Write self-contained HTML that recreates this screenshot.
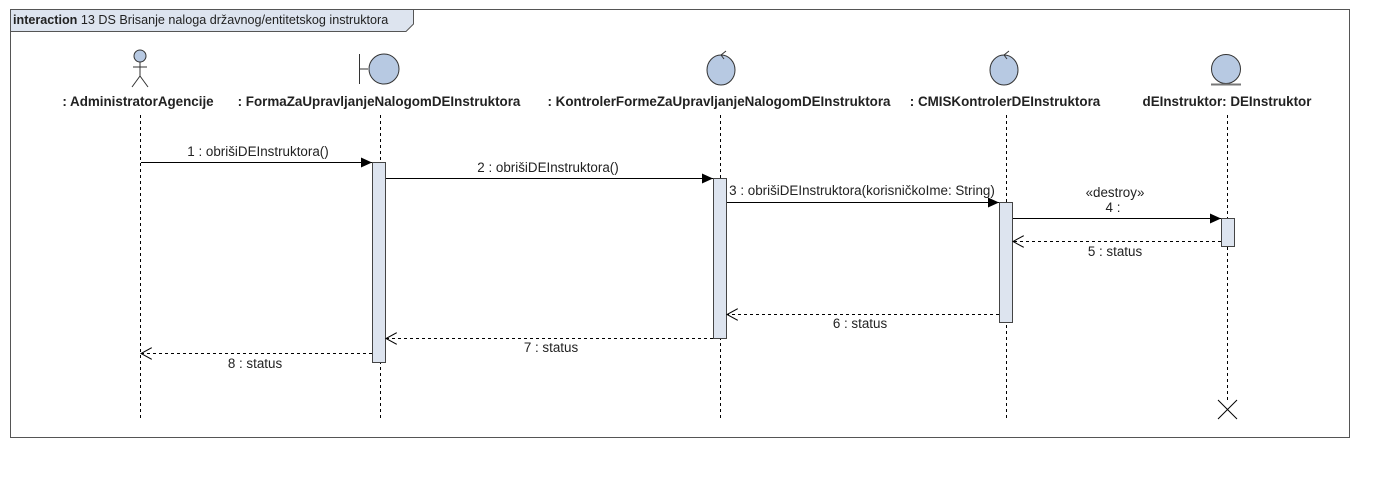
<!DOCTYPE html>
<html><head><meta charset="utf-8"><style>body{margin:0;background:#fff}svg{display:block}text{font-family:"Liberation Sans",sans-serif;font-size:13.4px;fill:#222}</style></head><body>
<svg width="1389" height="477" viewBox="0 0 1389 477">
<defs>
<marker id="f" markerWidth="12" markerHeight="10" refX="11" refY="5" orient="auto" markerUnits="userSpaceOnUse"><path d="M0,0L11,5L0,10z" fill="#000"/></marker>
<marker id="o" markerWidth="12" markerHeight="12" refX="11" refY="6" orient="auto" markerUnits="userSpaceOnUse"><path d="M0,0L11,6L0,12" fill="none" stroke="#000"/></marker>
</defs>
<rect x="10.5" y="9.5" width="1339" height="428" fill="#fff" stroke="#555"/>
<path d="M10.5,9.5H413.5V24L406,31.5H10.5z" fill="#dde4ef" stroke="#555"/>
<text x="13" y="24" style="font-size:12.6px"><tspan font-weight="bold">interaction</tspan> 13 DS Brisanje naloga državnog/entitetskog instruktora</text>
<g stroke="#000" stroke-dasharray="3,3" stroke-width="1">
<line x1="140.5" y1="115" x2="140.5" y2="418"/><line x1="380.5" y1="115" x2="380.5" y2="418"/><line x1="720.5" y1="115" x2="720.5" y2="418"/><line x1="1006.5" y1="115" x2="1006.5" y2="418"/><line x1="1227.5" y1="115" x2="1227.5" y2="400"/>
</g>
<g stroke="#333" fill="none"><circle cx="140" cy="56" r="6" fill="#b7c9e2"/><line x1="140" y1="62" x2="140" y2="76"/><line x1="133" y1="67" x2="147" y2="67"/><line x1="140" y1="76" x2="132" y2="87"/><line x1="140" y1="76" x2="148" y2="87"/></g>
<g stroke="#333"><line x1="359.5" y1="54" x2="359.5" y2="84"/><line x1="359" y1="69" x2="368" y2="69"/><circle cx="384" cy="69" r="15" fill="#b7c9e2"/></g>
<g stroke="#333" fill="#b7c9e2"><ellipse cx="721" cy="70" rx="14" ry="15"/><path d="M721,55l5,-4M721,55l3,4" fill="none"/><ellipse cx="1004" cy="70" rx="14" ry="15"/><path d="M1004,55l5,-4M1004,55l3,4" fill="none"/></g>
<g stroke="#333"><circle cx="1226" cy="69" r="14.5" fill="#b7c9e2"/><line x1="1211" y1="84.5" x2="1241" y2="84.5" stroke="#777" stroke-width="2"/></g>
<g text-anchor="middle">
<text x="138" y="106" font-weight="bold">: AdministratorAgencije</text>
<text x="379" y="106" font-weight="bold">: FormaZaUpravljanjeNalogomDEInstruktora</text>
<text x="719" y="106" font-weight="bold">: KontrolerFormeZaUpravljanjeNalogomDEInstruktora</text>
<text x="1005" y="106" font-weight="bold">: CMISKontrolerDEInstruktora</text>
<text x="1227" y="106" font-weight="bold">dEInstruktor: DEInstruktor</text>
</g>
<g fill="#dde4ef" stroke="#444">
<rect x="372.5" y="162.5" width="13" height="200"/><rect x="713.5" y="178.5" width="13" height="160"/><rect x="999.5" y="202.5" width="13" height="120"/><rect x="1221.5" y="218.5" width="13" height="28"/>
</g>
<g stroke="#000">
<line x1="141" y1="162.5" x2="372" y2="162.5" marker-end="url(#f)"/>
<line x1="386" y1="178.5" x2="713" y2="178.5" marker-end="url(#f)"/>
<line x1="727" y1="202.5" x2="999" y2="202.5" marker-end="url(#f)"/>
<line x1="1013" y1="218.5" x2="1221" y2="218.5" marker-end="url(#f)"/>
<g stroke-dasharray="3,3">
<line x1="1221" y1="241.5" x2="1013" y2="241.5" marker-end="url(#o)"/>
<line x1="999" y1="314.5" x2="727" y2="314.5" marker-end="url(#o)"/>
<line x1="713" y1="338.5" x2="386" y2="338.5" marker-end="url(#o)"/>
<line x1="372" y1="353.5" x2="141" y2="353.5" marker-end="url(#o)"/>
</g>
<line x1="1218" y1="400" x2="1237" y2="419"/><line x1="1237" y1="400" x2="1218" y2="419"/>
</g>
<g text-anchor="middle">
<text x="258" y="156">1 : obrišiDEInstruktora()</text>
<text x="548" y="172">2 : obrišiDEInstruktora()</text>
<text x="862" y="195">3 : obrišiDEInstruktora(korisničkoIme: String)</text>
<text x="1115" y="197">«destroy»</text>
<text x="1113" y="212">4 :</text>
<text x="1115" y="256">5 : status</text>
<text x="860" y="328">6 : status</text>
<text x="551" y="352">7 : status</text>
<text x="255" y="368">8 : status</text>
</g>
</svg>
</body></html>
